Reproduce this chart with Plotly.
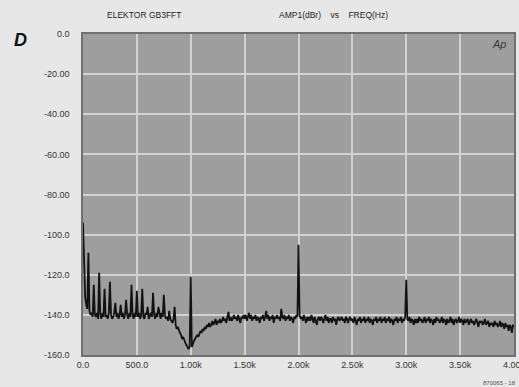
import numpy as np
import plotly.graph_objects as go

# FFT of residual, 10 Hz bins from 0 to 4000 Hz (dBr)
FREQ_STEP = 10
level = [
    -94, -122, -131, -135, -137, -109, -138, -140, -139, -141,
    -125, -140, -141, -139, -142, -119, -140, -142, -139, -141,
    -127, -141, -140, -142, -139, -123.5, -140, -142, -141, -139,
    -134, -141, -139, -142, -140, -135, -141, -139, -142, -140,
    -132.5, -140, -142, -139, -141, -125, -140, -142, -139, -141,
    -128, -141, -139, -142, -140, -127, -141, -142, -139, -140,
    -136, -142, -140, -139, -141, -129, -140, -142, -139, -141,
    -136, -140, -142, -139, -141, -130, -140, -142, -141, -143,
    -138, -142, -143, -144, -142, -136, -145, -147, -146, -148,
    -149, -150, -152, -151, -153, -154, -155, -156, -157, -156,
    -121, -156, -154, -153, -152, -151, -150, -151, -149, -148,
    -149, -147, -148, -146, -147, -145, -146, -144, -146, -145,
    -143, -145, -144, -142, -145, -143, -144, -142, -144, -143,
    -141, -143, -142, -144, -141, -138.5, -143, -141, -143, -142,
    -140, -142, -141, -143, -140, -142, -144, -141, -142, -140,
    -142, -140, -143, -141, -139, -142, -140, -143, -141, -142,
    -140, -143, -141, -142, -144, -141, -142, -140, -143, -141,
    -138, -142, -140, -143, -141, -142, -140, -144, -141, -142,
    -140, -142, -141, -143, -137, -141, -142, -140, -143, -141,
    -142, -140, -143, -141, -142, -144, -141, -142, -140, -141,
    -105, -140, -142, -141, -143, -140, -142, -144, -141, -143,
    -141, -143, -140, -142, -144, -141, -143, -145, -142, -141,
    -143, -141, -142, -144, -142, -140, -143, -141, -144, -142,
    -142, -144, -141, -143, -142, -145, -142, -141, -143, -142,
    -141, -143, -142, -144, -141, -142, -144, -142, -141, -143,
    -142, -144, -141, -143, -145, -142, -143, -141, -144, -142,
    -143, -141, -144, -142, -143, -141, -144, -142, -143, -145,
    -142, -143, -141, -144, -142, -143, -141, -144, -142, -143,
    -141, -144, -142, -143, -141, -144, -142, -143, -145, -142,
    -143, -141, -144, -142, -143, -141, -144, -142, -143, -141,
    -122.5, -142, -143, -141, -144, -142, -143, -145, -142, -144,
    -142, -144, -141, -143, -142, -144, -143, -141, -144, -142,
    -143, -141, -144, -142, -143, -145, -142, -144, -141, -143,
    -142, -144, -143, -141, -144, -142, -143, -145, -142, -144,
    -143, -141, -144, -142, -145, -143, -142, -144, -143, -141,
    -144, -142, -143, -145, -142, -144, -143, -142, -145, -143,
    -142, -144, -143, -145, -143, -142, -144, -146, -143, -144,
    -143, -145, -144, -142, -145, -144, -143, -146, -144, -145,
    -144, -146, -143, -145, -144, -146, -145, -143, -146, -144,
    -145, -147, -144, -146, -145, -148, -145, -146, -149, -145,
    -146,
]
freq = np.arange(len(level)) * FREQ_STEP

x_ticks = [0, 500, 1000, 1500, 2000, 2500, 3000, 3500, 4000]
x_labels = ["0.0", "500.0", "1.00k", "1.50k", "2.00k", "2.50k", "3.00k", "3.50k", "4.00k"]
y_ticks = [0, -20, -40, -60, -80, -100, -120, -140, -160]
y_labels = ["0.0", "-20.00", "-40.00", "-60.00", "-80.00", "-100.0", "-120.0", "-140.0", "-160.0"]

fig = go.Figure()
fig.add_trace(go.Scatter(
    x=freq, y=level, mode="lines",
    line=dict(color="#121212", width=1.8),
    showlegend=False, hoverinfo="skip",
))

axis_font = dict(family="Liberation Sans, Arial, sans-serif", size=9, color="#333333")
fig.update_xaxes(
    range=[0, 4000], tickvals=x_ticks, ticktext=x_labels, tickfont=axis_font,
    showgrid=True, gridcolor="#d2d2d2", gridwidth=1.5,
    showline=True, linecolor="#707070", linewidth=1.5, mirror=True,
    zeroline=False, ticks="", ticklabeloverflow="allow", automargin=False,
)
fig.update_yaxes(
    range=[-160, 0], tickvals=y_ticks, ticktext=y_labels, tickfont=axis_font,
    showgrid=True, gridcolor="#d2d2d2", gridwidth=1.5,
    showline=True, linecolor="#707070", linewidth=1.5, mirror=True,
    zeroline=False, ticks="", ticklabelstandoff=10, automargin=False,
)

head_font = dict(family="Liberation Sans, Arial, sans-serif", size=8.5, color="#1e1e1e")
fig.add_annotation(text="ELEKTOR GB3FFT", xref="paper", yref="paper", x=0.051, y=1.059,
                   xanchor="left", yanchor="middle", showarrow=False, font=head_font)
fig.add_annotation(text="AMP1(dBr)    vs    FREQ(Hz)", xref="paper", yref="paper", x=0.45, y=1.059,
                   xanchor="left", yanchor="middle", showarrow=False, font=head_font)
fig.add_annotation(text="<b><i>D</i></b>", xref="paper", yref="paper", x=-0.146, y=0.981,
                   xanchor="center", yanchor="middle", showarrow=False,
                   font=dict(family="Liberation Sans, Arial, sans-serif", size=18, color="#111111"))
fig.add_annotation(text="<i>Ap</i>", xref="paper", yref="paper", x=0.985, y=0.968,
                   xanchor="right", yanchor="middle", showarrow=False,
                   font=dict(family="Liberation Sans, Arial, sans-serif", size=11, color="#3a3a3a"))
fig.add_annotation(text="870065 - 18", xref="paper", yref="paper", x=1.009, y=-0.086,
                   xanchor="right", yanchor="middle", showarrow=False,
                   font=dict(family="Liberation Sans, Arial, sans-serif", size=6, color="#555555"))

fig.update_layout(
    width=519, height=387,
    margin=dict(l=83, r=5, t=34, b=32),
    paper_bgcolor="#e7e7e7", plot_bgcolor="#9e9e9e",
    showlegend=False,
)

# drop the default 8 px body margin so the figure fills the window exactly
fig.write_html(
    "out.html",
    config={"displayModeBar": False},
    post_script="document.body.style.margin='0';document.body.style.overflow='hidden';",
)
